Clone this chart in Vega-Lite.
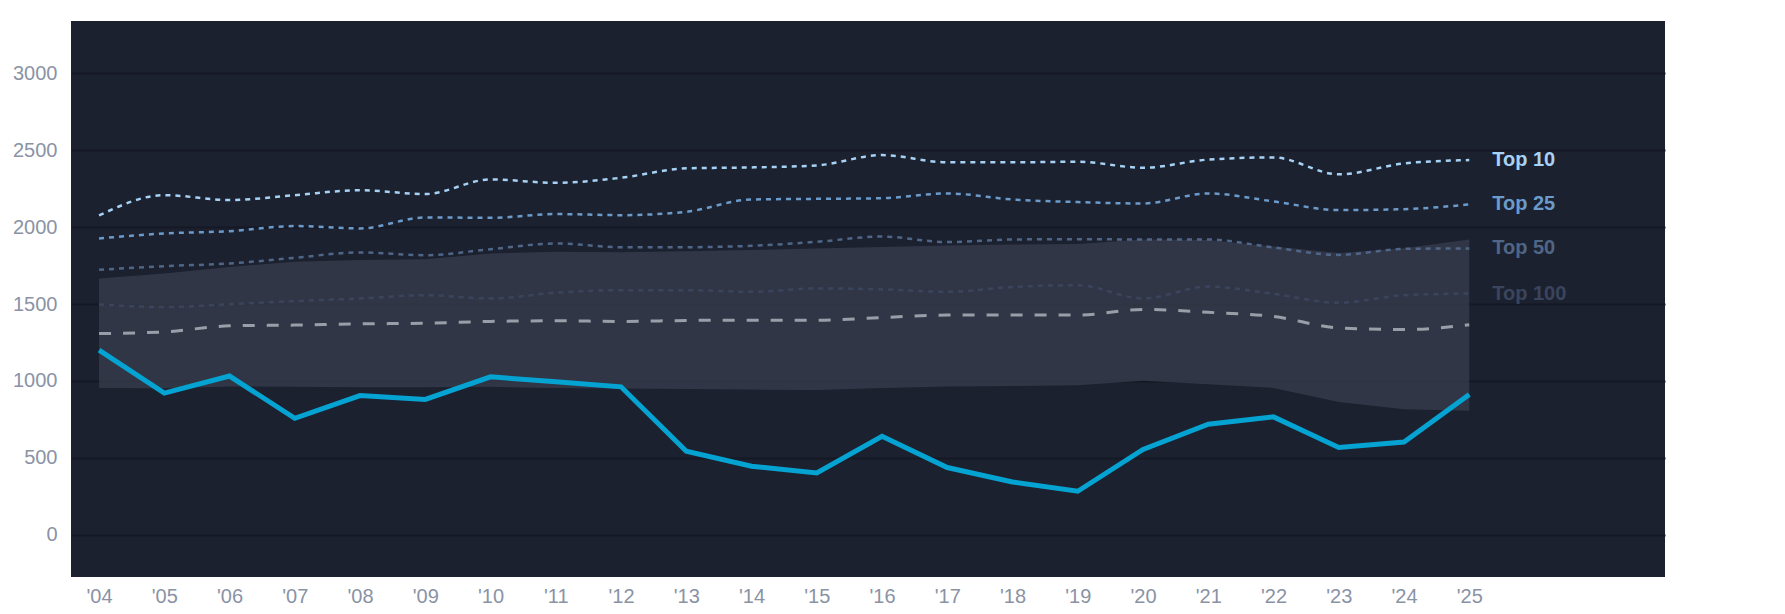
{
  "$schema": "https://vega.github.io/schema/vega-lite/v6.json",
  "width": 1594,
  "height": 556,
  "autosize": "none",
  "padding": {"left": 71, "top": 21, "right": 120, "bottom": 37},
  "background": "white",
  "config": {
    "font": "Liberation Sans",
    "view": {"fill": "#1c2130", "stroke": null},
    "axis": {"domain": false, "ticks": false, "labelFont": "Liberation Sans", "labelFontSize": 20, "labelColor": "#8a93a5"},
    "axisY": {"gridColor": "#151924", "gridWidth": 2, "labelPadding": 14},
    "axisX": {"grid": false, "labelPadding": 9}
  },
  "data": {
    "values": [
      {"year": 2004, "main": 1200, "median": 1308, "lo": 955, "hi": 1666, "Top 10": 2075, "Top 25": 1926, "Top 50": 1722, "Top 100": 1497},
      {"year": 2005, "main": 921, "median": 1319, "lo": 953, "hi": 1698, "Top 10": 2207, "Top 25": 1958, "Top 50": 1746, "Top 100": 1480},
      {"year": 2006, "main": 1032, "median": 1358, "lo": 965, "hi": 1741, "Top 10": 2175, "Top 25": 1973, "Top 50": 1763, "Top 100": 1499},
      {"year": 2007, "main": 758, "median": 1363, "lo": 962, "hi": 1774, "Top 10": 2207, "Top 25": 2006, "Top 50": 1800, "Top 100": 1519},
      {"year": 2008, "main": 905, "median": 1371, "lo": 960, "hi": 1785, "Top 10": 2239, "Top 25": 1991, "Top 50": 1835, "Top 100": 1536},
      {"year": 2009, "main": 880, "median": 1375, "lo": 960, "hi": 1791, "Top 10": 2214, "Top 25": 2062, "Top 50": 1817, "Top 100": 1557},
      {"year": 2010, "main": 1027, "median": 1387, "lo": 962, "hi": 1828, "Top 10": 2309, "Top 25": 2060, "Top 50": 1856, "Top 100": 1536},
      {"year": 2011, "main": 995, "median": 1391, "lo": 955, "hi": 1839, "Top 10": 2287, "Top 25": 2084, "Top 50": 1893, "Top 100": 1573},
      {"year": 2012, "main": 962, "median": 1387, "lo": 952, "hi": 1836, "Top 10": 2320, "Top 25": 2077, "Top 50": 1869, "Top 100": 1590},
      {"year": 2013, "main": 544, "median": 1393, "lo": 948, "hi": 1843, "Top 10": 2381, "Top 25": 2099, "Top 50": 1869, "Top 100": 1590},
      {"year": 2014, "main": 446, "median": 1395, "lo": 944, "hi": 1850, "Top 10": 2387, "Top 25": 2179, "Top 50": 1878, "Top 100": 1579},
      {"year": 2015, "main": 403, "median": 1395, "lo": 942, "hi": 1861, "Top 10": 2400, "Top 25": 2183, "Top 50": 1904, "Top 100": 1601},
      {"year": 2016, "main": 641, "median": 1412, "lo": 955, "hi": 1870, "Top 10": 2467, "Top 25": 2187, "Top 50": 1938, "Top 100": 1595},
      {"year": 2017, "main": 438, "median": 1428, "lo": 965, "hi": 1880, "Top 10": 2420, "Top 25": 2218, "Top 50": 1902, "Top 100": 1579},
      {"year": 2018, "main": 344, "median": 1428, "lo": 968, "hi": 1886, "Top 10": 2420, "Top 25": 2179, "Top 50": 1919, "Top 100": 1611},
      {"year": 2019, "main": 284, "median": 1428, "lo": 972, "hi": 1890, "Top 10": 2424, "Top 25": 2162, "Top 50": 1921, "Top 100": 1622},
      {"year": 2020, "main": 555, "median": 1465, "lo": 1001, "hi": 1919, "Top 10": 2385, "Top 25": 2153, "Top 50": 1919, "Top 100": 1536},
      {"year": 2021, "main": 719, "median": 1446, "lo": 979, "hi": 1915, "Top 10": 2438, "Top 25": 2218, "Top 50": 1919, "Top 100": 1613},
      {"year": 2022, "main": 767, "median": 1419, "lo": 955, "hi": 1873, "Top 10": 2452, "Top 25": 2166, "Top 50": 1867, "Top 100": 1566},
      {"year": 2023, "main": 568, "median": 1345, "lo": 864, "hi": 1832, "Top 10": 2342, "Top 25": 2110, "Top 50": 1819, "Top 100": 1508},
      {"year": 2024, "main": 604, "median": 1334, "lo": 817, "hi": 1862, "Top 10": 2413, "Top 25": 2116, "Top 50": 1858, "Top 100": 1557},
      {"year": 2025, "main": 912, "median": 1365, "lo": 806, "hi": 1919, "Top 10": 2435, "Top 25": 2147, "Top 50": 1861, "Top 100": 1568}
    ]
  },
  "encoding": {
    "x": {
      "field": "year",
      "type": "quantitative",
      "title": null,
      "scale": {"domain": [2003.57, 2028], "nice": false, "zero": false},
      "axis": {
        "values": [2004, 2005, 2006, 2007, 2008, 2009, 2010, 2011, 2012, 2013, 2014, 2015, 2016, 2017, 2018, 2019, 2020, 2021, 2022, 2023, 2024, 2025],
        "labelExpr": "\"'\" + substring(toString(datum.value), 2, 4)"
      }
    }
  },
  "layer": [
    {
      "mark": {"type": "area", "color": "#3b4051", "opacity": 0.7},
      "encoding": {
        "y": {
          "field": "lo",
          "type": "quantitative",
          "title": null,
          "scale": {"domain": [-273, 3338], "nice": false, "zero": false},
          "axis": {"values": [0, 500, 1000, 1500, 2000, 2500, 3000], "format": "d"}
        },
        "y2": {"field": "hi"}
      }
    },
    {
      "transform": [{"fold": ["Top 10", "Top 25", "Top 50", "Top 100"], "as": ["series", "value"]}],
      "mark": {"type": "line", "interpolate": "monotone", "strokeWidth": 2.5, "strokeDash": [5, 5]},
      "encoding": {
        "y": {"field": "value", "type": "quantitative", "title": null},
        "color": {
          "field": "series",
          "type": "nominal",
          "legend": null,
          "scale": {"domain": ["Top 10", "Top 25", "Top 50", "Top 100"], "range": ["#a6d3f5", "#6b9bcb", "#4f6687", "#3a455d"]}
        }
      }
    },
    {
      "mark": {"type": "line", "interpolate": "monotone", "strokeWidth": 3, "strokeDash": [12, 12], "color": "#9a9ea8"},
      "encoding": {
        "y": {"field": "median", "type": "quantitative", "title": null}
      }
    },
    {
      "mark": {"type": "line", "strokeWidth": 5, "color": "#04a3d2"},
      "encoding": {
        "y": {"field": "main", "type": "quantitative", "title": null}
      }
    },
    {
      "transform": [
        {"filter": "datum.year == 2025"},
        {"fold": ["Top 10", "Top 25", "Top 50", "Top 100"], "as": ["series", "value"]}
      ],
      "mark": {"type": "text", "align": "left", "baseline": "middle", "dx": 23, "fontSize": 20, "fontWeight": "bold", "font": "Liberation Sans"},
      "encoding": {
        "y": {"field": "value", "type": "quantitative", "title": null},
        "text": {"field": "series"},
        "color": {"field": "series", "type": "nominal", "legend": null}
      }
    }
  ]
}
